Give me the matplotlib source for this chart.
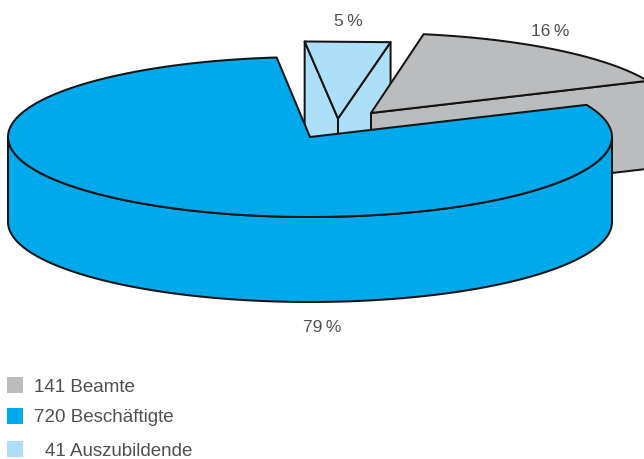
import numpy as np
import matplotlib
matplotlib.use("Agg")
import matplotlib.pyplot as plt
from matplotlib.patches import Polygon, Rectangle

# Data
categories = ["Beamte", "Beschäftigte", "Auszubildende"]
counts = [141, 720, 41]
percent_labels = ["16\u2009%", "79\u2009%", "5\u2009%"]

# Layout (pixel coordinates of the reference)
W, H = 644, 459
A = 302
START = 23.7   # parametric angle where the grey slice begins
GREY, BLUE, LIGHT = "#BBBCBE", "#00A9EC", "#AEDFF9"
INK = "#141414"
TEXT = "#505050"
LW = 1.45
FONT = ["Liberation Sans", "DejaVu Sans"]

fig = plt.figure(figsize=(W / 100, H / 100), dpi=100)
ax = fig.add_axes([0, 0, 1, 1])
ax.set_xlim(0, W)
ax.set_ylim(H, 0)
ax.axis("off")

total = sum(counts)
spans = [c / total * 360 for c in counts]
t_grey = (START, START + spans[0])
t_light = (t_grey[1], t_grey[1] + spans[2])
t_blue = (t_light[1], t_light[1] + spans[1])


def arc(cx, cy, b, t0, t1, n=200):
    t = np.radians(np.linspace(t0, t1, n))
    return np.column_stack([cx + A * np.cos(t), cy - b * np.sin(t)])


def poly(pts, fc, z=1):
    ax.add_patch(Polygon(pts, closed=True, fc=fc, ec=INK, lw=LW,
                         joinstyle="round", zorder=z))


def face(p, q, d, fc, z):
    p, q = np.asarray(p, float), np.asarray(q, float)
    poly([p, q, q + [0, d], p + [0, d]], fc, z=z)


# Light slice (drawn first: the others sit in front of it; its rim is straight)
lc = (338, 118.5, 77.5)
lpts = arc(*lc, *t_light, n=2)
apex = np.array(lc[:2])
face(lpts[-1], apex, 90, LIGHT, 2)
face(lpts[0], apex, 90, LIGHT, 2)
poly(np.vstack([apex, lpts]), LIGHT, z=3)

# Grey slice
gc = (371, 113, 80)
gpts = arc(*gc, *t_grey)
apex = np.array(gc[:2])
face(apex, gpts[0], 88, GREY, 4)
poly(np.vstack([apex, gpts]), GREY, z=5)

# Blue slice
bc = (310, 137, 80)
depth = 85
cx, cy, b = bc
front = arc(cx, cy, b, 180, 360)
poly(np.vstack([front, (front + [0, depth])[::-1]]), BLUE, z=6)
bpts = arc(*bc, *t_blue)
poly(np.vstack([np.array(bc[:2]), bpts]), BLUE, z=7)

# Percent labels
for label, (x, y) in zip(percent_labels, [(550, 31), (322, 327), (348, 21)]):
    ax.text(x, y, label, ha="center", va="center", fontsize=12.5,
            color=TEXT, family=FONT)

# Legend
rows = [(377, 34), (408, 34), (441, 45)]
for count, name, color, (y, tx) in zip(counts, categories, [GREY, BLUE, LIGHT], rows):
    ax.add_patch(Rectangle((7, y), 16, 16, fc=color, ec="none"))
    ax.text(tx, y + 10, f"{count} {name}", ha="left", va="center", fontsize=13.5,
            color=TEXT, family=FONT)

fig.savefig("out.png", dpi=100)
